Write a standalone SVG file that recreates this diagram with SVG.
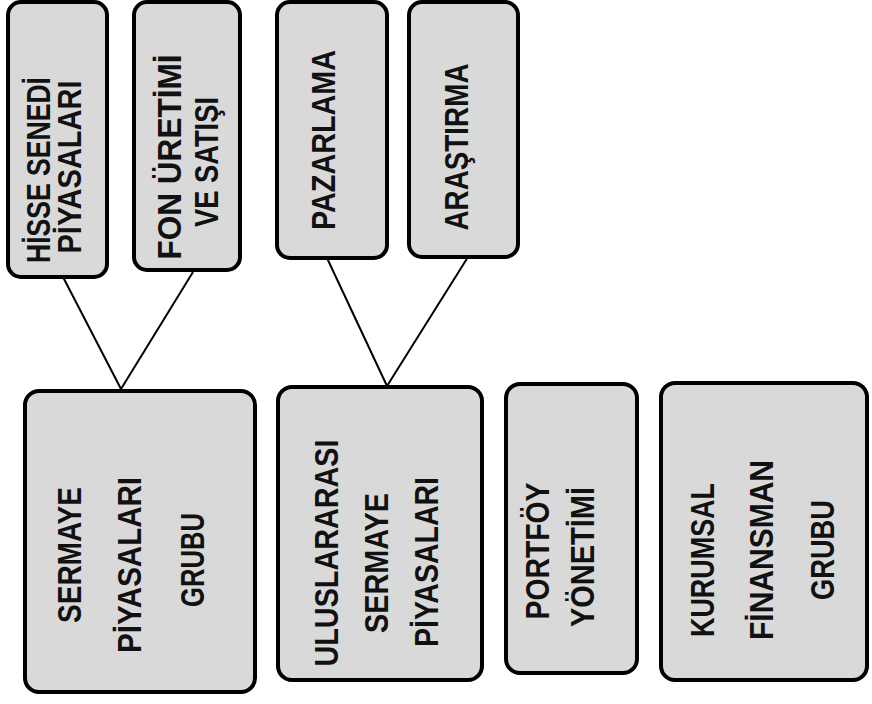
<svg xmlns="http://www.w3.org/2000/svg" width="872" height="704" viewBox="0 0 872 704">
<defs>
<style>
.box{fill:#d9d9d9;stroke:#000;stroke-width:4}
.t{font-family:"Liberation Sans Narrow","Liberation Sans",Arial,sans-serif;font-weight:bold;font-size:34px;fill:#111;text-anchor:middle}
.c{stroke:#000;stroke-width:2;fill:none}
</style>
</defs>
<rect width="872" height="704" fill="#fff"/>
<g id="connectors">
<line class="c" x1="63" y1="277" x2="121" y2="389"/>
<line class="c" x1="193" y1="272" x2="121" y2="389"/>
<line class="c" x1="327" y1="258" x2="387" y2="386"/>
<line class="c" x1="468" y1="257" x2="387" y2="386"/>
</g>
<g id="hisse">
<rect class="box" x="8" y="2" width="99" height="275" rx="13"/>
<text class="t" transform="translate(50,170) rotate(-90)" textLength="186" lengthAdjust="spacingAndGlyphs">HİSSE SENEDİ</text>
<text class="t" transform="translate(81,167) rotate(-90)" textLength="173" lengthAdjust="spacingAndGlyphs">PİYASALARI</text>
</g>
<g id="fon">
<rect class="box" x="134" y="2" width="106" height="268" rx="13"/>
<text class="t" transform="translate(181,157) rotate(-90)" textLength="205" lengthAdjust="spacingAndGlyphs">FON ÜRETİMİ</text>
<text class="t" transform="translate(218,162) rotate(-90)" textLength="130" lengthAdjust="spacingAndGlyphs">VE SATIŞI</text>
</g>
<g id="pazarlama">
<rect class="box" x="277" y="2" width="110" height="256" rx="13"/>
<text class="t" transform="translate(335,140) rotate(-90)" textLength="180" lengthAdjust="spacingAndGlyphs">PAZARLAMA</text>
</g>
<g id="arastirma">
<rect class="box" x="409" y="2" width="109" height="255" rx="13"/>
<text class="t" transform="translate(468,147) rotate(-90)" textLength="167" lengthAdjust="spacingAndGlyphs">ARAŞTIRMA</text>
</g>
<g id="sermaye">
<rect class="box" x="25" y="391" width="230" height="301" rx="14"/>
<text class="t" transform="translate(81,555) rotate(-90)" textLength="136" lengthAdjust="spacingAndGlyphs">SERMAYE</text>
<text class="t" transform="translate(141,565) rotate(-90)" textLength="176" lengthAdjust="spacingAndGlyphs">PİYASALARI</text>
<text class="t" transform="translate(204,560) rotate(-90)" textLength="94" lengthAdjust="spacingAndGlyphs">GRUBU</text>
</g>
<g id="uluslararasi">
<rect class="box" x="278" y="387" width="204" height="293" rx="14"/>
<text class="t" transform="translate(338,553) rotate(-90)" textLength="227" lengthAdjust="spacingAndGlyphs">ULUSLARARASI</text>
<text class="t" transform="translate(388,563) rotate(-90)" textLength="140" lengthAdjust="spacingAndGlyphs">SERMAYE</text>
<text class="t" transform="translate(438,562) rotate(-90)" textLength="170" lengthAdjust="spacingAndGlyphs">PİYASALARI</text>
</g>
<g id="portfoy">
<rect class="box" x="506" y="384" width="131" height="289" rx="14"/>
<text class="t" transform="translate(549,551) rotate(-90)" textLength="137" lengthAdjust="spacingAndGlyphs">PORTFÖY</text>
<text class="t" transform="translate(594,557) rotate(-90)" textLength="140" lengthAdjust="spacingAndGlyphs">YÖNETİMİ</text>
</g>
<g id="kurumsal">
<rect class="box" x="661" y="383" width="206" height="297" rx="14"/>
<text class="t" transform="translate(714,560) rotate(-90)" textLength="154" lengthAdjust="spacingAndGlyphs">KURUMSAL</text>
<text class="t" transform="translate(773,550) rotate(-90)" textLength="180" lengthAdjust="spacingAndGlyphs">FİNANSMAN</text>
<text class="t" transform="translate(834,550) rotate(-90)" textLength="100" lengthAdjust="spacingAndGlyphs">GRUBU</text>
</g>
</svg>
